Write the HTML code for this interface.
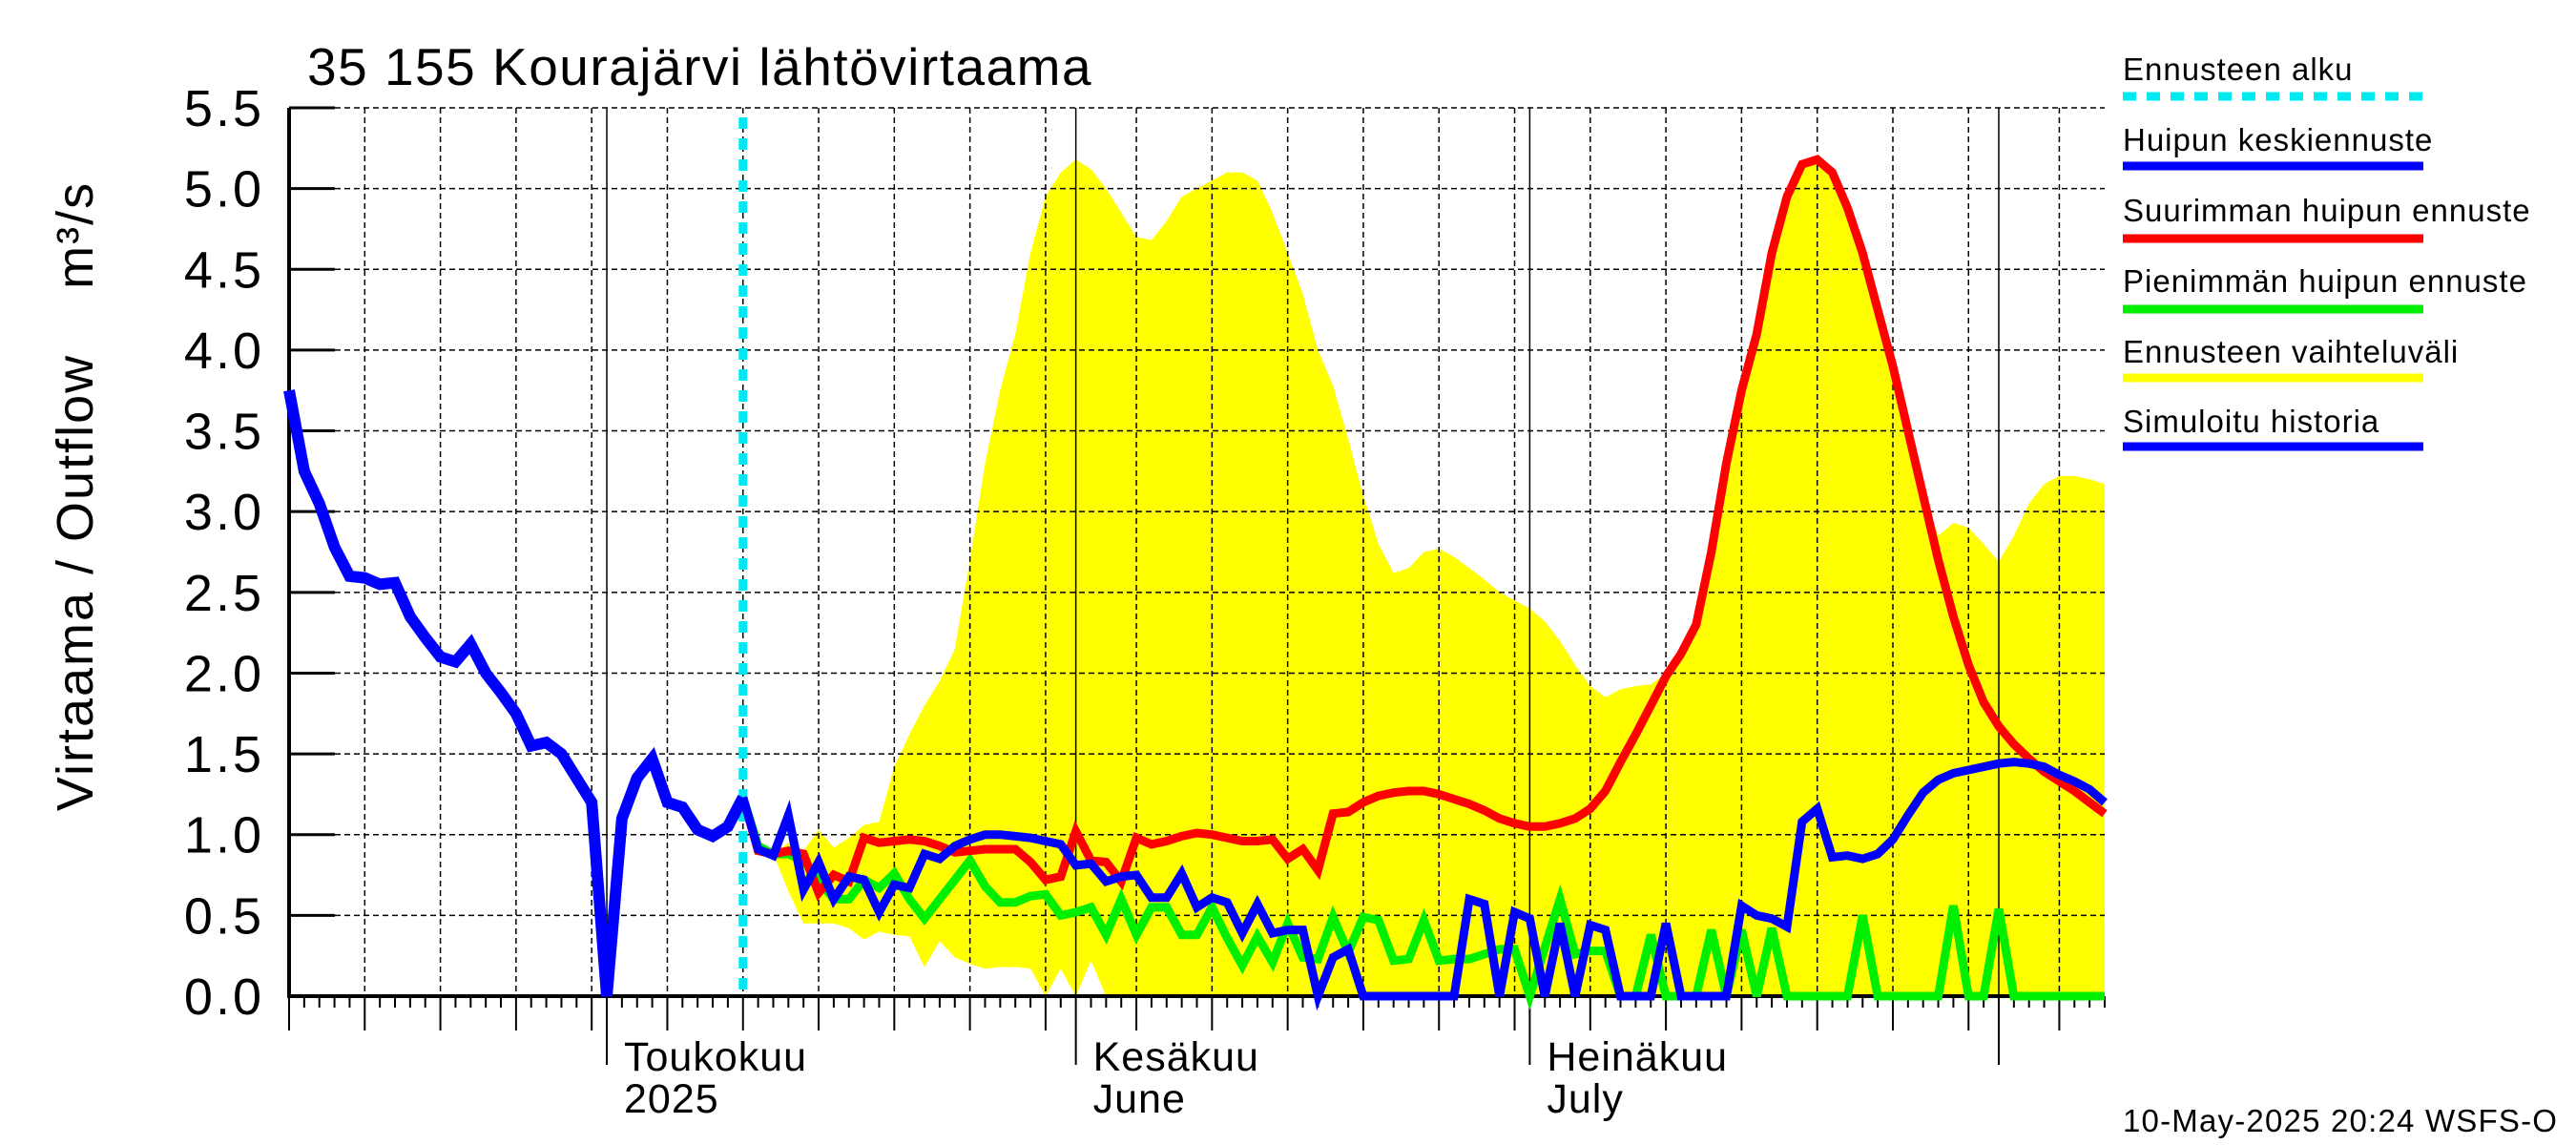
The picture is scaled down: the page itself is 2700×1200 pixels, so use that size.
<!DOCTYPE html>
<html><head><meta charset="utf-8">
<style>
html,body{margin:0;padding:0;background:#fff;}
svg{display:block;font-family:"Liberation Sans",sans-serif;}
</style></head>
<body>
<svg id="chart" width="2700" height="1200" viewBox="0 0 2700 1200" xmlns="http://www.w3.org/2000/svg">
<text x="322" y="89" font-size="55" letter-spacing="1.5">35 155 Kourajärvi lähtövirtaama</text>
<text transform="translate(97,520) rotate(-90)" text-anchor="middle" font-size="54" letter-spacing="2" xml:space="preserve">Virtaama / Outflow    m³/s</text>
<g id="plot"></g>
<g id="legend">
<text x="2225" y="84" font-size="33" letter-spacing="1">Ennusteen alku</text>
<line x1="2225" y1="101" x2="2540" y2="101" stroke="#00e8f0" stroke-width="9" stroke-dasharray="14,11"/>
<text x="2225" y="158" font-size="33" letter-spacing="1">Huipun keskiennuste</text>
<line x1="2225" y1="174" x2="2540" y2="174" stroke="#0000ff" stroke-width="9"/>
<text x="2225" y="232" font-size="33" letter-spacing="1">Suurimman huipun ennuste</text>
<line x1="2225" y1="250" x2="2540" y2="250" stroke="#ff0000" stroke-width="9"/>
<text x="2225" y="306" font-size="33" letter-spacing="1">Pienimmän huipun ennuste</text>
<line x1="2225" y1="324" x2="2540" y2="324" stroke="#00ee00" stroke-width="9"/>
<text x="2225" y="380" font-size="33" letter-spacing="1">Ennusteen vaihteluväli</text>
<line x1="2225" y1="396" x2="2540" y2="396" stroke="#ffff00" stroke-width="9"/>
<text x="2225" y="453" font-size="33" letter-spacing="1">Simuloitu historia</text>
<line x1="2225" y1="468" x2="2540" y2="468" stroke="#0000ff" stroke-width="9"/>
</g>
<text x="2225" y="1186" font-size="33" letter-spacing="1.2">10-May-2025 20:24 WSFS-O</text>
</svg>
<script>
// Day 0 = 10 Apr 2025; forecast starts day 30 (10 May)
const yTicks = ["0.0","0.5","1.0","1.5","2.0","2.5","3.0","3.5","4.0","4.5","5.0","5.5"];
const monthStarts = [21, 52, 82, 113];
const monthLabels1 = ["Toukokuu","Kesäkuu","Heinäkuu",""];
const monthLabels2 = ["2025","June","July",""];
const forecastStartDay = 30;
const historyValues = [3.75,3.25,3.05,2.78,2.6,2.59,2.55,2.56,2.35,2.22,2.1,2.07,2.18,2.0,1.88,1.75,1.55,1.57,1.5,1.35,1.2,0.0,1.1,1.35,1.47,1.2,1.17,1.03,0.99,1.05,1.23];
const medianValues = [1.23,0.91,0.87,1.12,0.66,0.83,0.6,0.74,0.72,0.52,0.69,0.67,0.88,0.85,0.93,0.97,1.0,1.0,0.99,0.98,0.96,0.94,0.81,0.82,0.71,0.74,0.75,0.61,0.61,0.76,0.55,0.61,0.58,0.39,0.57,0.39,0.41,0.41,0,0.24,0.29,0,0,0,0,0,0,0,0.6,0.57,0,0.52,0.48,0,0.45,0,0.44,0.41,0,0,0,0.45,0,0,0,0,0.56,0.5,0.48,0.43,1.08,1.16,0.86,0.87,0.85,0.88,0.97,1.12,1.26,1.34,1.38,1.4,1.42,1.44,1.45,1.44,1.42,1.37,1.33,1.28,1.2];
const maxValues = [1.23,0.9,0.88,0.9,0.88,0.64,0.75,0.71,0.98,0.95,0.96,0.97,0.96,0.93,0.89,0.9,0.91,0.91,0.91,0.83,0.72,0.74,1.02,0.84,0.83,0.71,0.98,0.94,0.96,0.99,1.01,1.0,0.98,0.96,0.96,0.97,0.85,0.91,0.78,1.13,1.14,1.2,1.24,1.26,1.27,1.27,1.25,1.22,1.19,1.15,1.1,1.07,1.05,1.05,1.07,1.1,1.16,1.27,1.45,1.62,1.8,1.98,2.12,2.3,2.75,3.3,3.75,4.1,4.6,4.95,5.15,5.18,5.1,4.88,4.6,4.25,3.9,3.5,3.1,2.7,2.35,2.05,1.82,1.67,1.56,1.47,1.39,1.33,1.27,1.2,1.13];
const minValues = [1.23,0.93,0.88,0.88,0.84,0.72,0.6,0.6,0.72,0.67,0.76,0.6,0.48,0.6,0.72,0.84,0.68,0.58,0.58,0.62,0.63,0.5,0.52,0.55,0.38,0.6,0.38,0.55,0.55,0.38,0.38,0.55,0.36,0.19,0.37,0.21,0.45,0.24,0.23,0.49,0.27,0.49,0.47,0.22,0.23,0.47,0.22,0.23,0.23,0.26,0.29,0.29,0,0.3,0.6,0.26,0.28,0.28,0,0,0.38,0,0,0,0.41,0,0.41,0,0.42,0,0,0,0,0,0.5,0,0,0,0,0,0.56,0,0,0.54,0,0,0,0,0,0,0];
const rangeUpper = [1.23,0.93,0.88,0.95,0.9,1.03,0.92,0.98,1.06,1.08,1.42,1.62,1.8,1.95,2.15,2.7,3.3,3.75,4.1,4.6,4.95,5.1,5.18,5.12,5.0,4.85,4.7,4.68,4.8,4.95,5.0,5.05,5.1,5.1,5.05,4.85,4.6,4.35,4.0,3.78,3.45,3.1,2.8,2.62,2.65,2.75,2.77,2.72,2.65,2.58,2.5,2.45,2.4,2.32,2.2,2.05,1.92,1.85,1.9,1.92,1.93,2.0,2.14,2.32,2.77,3.32,3.77,4.12,4.62,4.97,5.17,5.2,5.12,4.9,4.62,4.27,3.92,3.52,3.12,2.85,2.93,2.9,2.8,2.69,2.85,3.05,3.17,3.22,3.22,3.2,3.17];
const rangeLower = [1.23,0.9,0.88,0.65,0.45,0.45,0.45,0.42,0.35,0.4,0.38,0.37,0.18,0.34,0.24,0.2,0.17,0.18,0.18,0.17,0,0.17,0,0.22,0,0,0,0,0,0,0,0,0,0,0,0,0,0,0,0,0,0,0,0,0,0,0,0,0,0,0,0,0,0,0,0,0,0,0,0,0,0,0,0,0,0,0,0,0,0,0,0,0,0,0,0,0,0,0,0,0,0,0,0,0,0,0,0,0,0,0];

const X0=303, X1=2206, Y0=1044, YT=113, DAYS=120, VMAX=5.5;
const xs = d => X0 + (X1-X0)*d/DAYS;
const ys = v => Y0 - (Y0-YT)*v/VMAX;
const NS="http://www.w3.org/2000/svg";
const plot=document.getElementById('plot');
function mk(tag, attrs, parent){const e=document.createElementNS(NS,tag);for(const k in attrs)e.setAttribute(k,attrs[k]);(parent||plot).appendChild(e);return e;}
function pts(arr, start){return arr.map((v,i)=>xs(start+i).toFixed(1)+','+ys(v).toFixed(1)).join(' ');}

let poly = pts(rangeUpper, forecastStartDay) + ' ' + rangeLower.map((v,i)=>xs(forecastStartDay+i).toFixed(1)+','+ys(v).toFixed(1)).reverse().join(' ');
const band = mk('polygon',{points:poly,fill:'#ffff00',stroke:'none'});



const gridDays=[];
[5,10,15,20].forEach(k=>gridDays.push(k));
[[21,31],[52,30],[82,31],[113,31]].forEach(([s,len])=>{for(let d=5;d<=30;d+=5) gridDays.push(s+d-1);});
const gridG=mk('g',{});


gridDays.filter(d=>d<DAYS).forEach(d=>{
  mk('line',{x1:xs(d),y1:YT,x2:xs(d),y2:Y0,stroke:'#000','stroke-width':1.5,'stroke-dasharray':'6,4'},gridG);
});
yTicks.forEach((t,i)=>{
  const v=parseFloat(t);
  const y=ys(v);
  if(i>0) mk('line',{x1:X0+48,y1:y,x2:X1,y2:y,stroke:'#000','stroke-width':1.5,'stroke-dasharray':'6,4'},gridG);
  mk('line',{x1:X0,y1:y,x2:X0+48,y2:y,stroke:'#000','stroke-width':3},gridG);
  const tx=mk('text',{x:277,y:y+19,'text-anchor':'end','font-size':54,'letter-spacing':3});
  tx.textContent=t;
  
  
});
monthStarts.forEach(d=>mk('line',{x1:xs(d),y1:YT,x2:xs(d),y2:Y0,stroke:'#000','stroke-width':1.5},gridG));
for(let d=0; d<=DAYS; d++){
  let len=12;
  if(gridDays.includes(d)) len=36;
  if(monthStarts.includes(d)) len=72;
  if(d===0) len=36;
  mk('line',{x1:xs(d),y1:Y0,x2:xs(d),y2:Y0+len,stroke:'#000','stroke-width':2},gridG);
}
monthStarts.forEach((d,i)=>{
  if(!monthLabels1[i]) return;
  const t1=mk('text',{x:xs(d)+18,y:Y0+78,'font-size':43,'letter-spacing':1});
  t1.textContent=monthLabels1[i];
  
  
  const t2=mk('text',{x:xs(d)+18,y:Y0+122,'font-size':43,'letter-spacing':1});
  t2.textContent=monthLabels2[i];
  
  
});
const ax=mk('polyline',{points:`${X0},${YT} ${X0},${Y0} ${X1},${Y0}`,fill:'none',stroke:'#000','stroke-width':4});



const fs=mk('line',{x1:xs(forecastStartDay),y1:YT+10,x2:xs(forecastStartDay),y2:Y0,stroke:'#00e8f0','stroke-width':9,'stroke-dasharray':'12,10'});



const gl=mk('polyline',{points:pts(minValues,forecastStartDay),fill:'none',stroke:'#00ee00','stroke-width':9});


const rl=mk('polyline',{points:pts(maxValues,forecastStartDay),fill:'none',stroke:'#ff0000','stroke-width':9});


const bl=mk('polyline',{points:pts(medianValues,forecastStartDay),fill:'none',stroke:'#0000ff','stroke-width':9});


const hl=mk('polyline',{points:pts(historyValues,0),fill:'none',stroke:'#0000ff','stroke-width':12});


</script>
</body></html>
